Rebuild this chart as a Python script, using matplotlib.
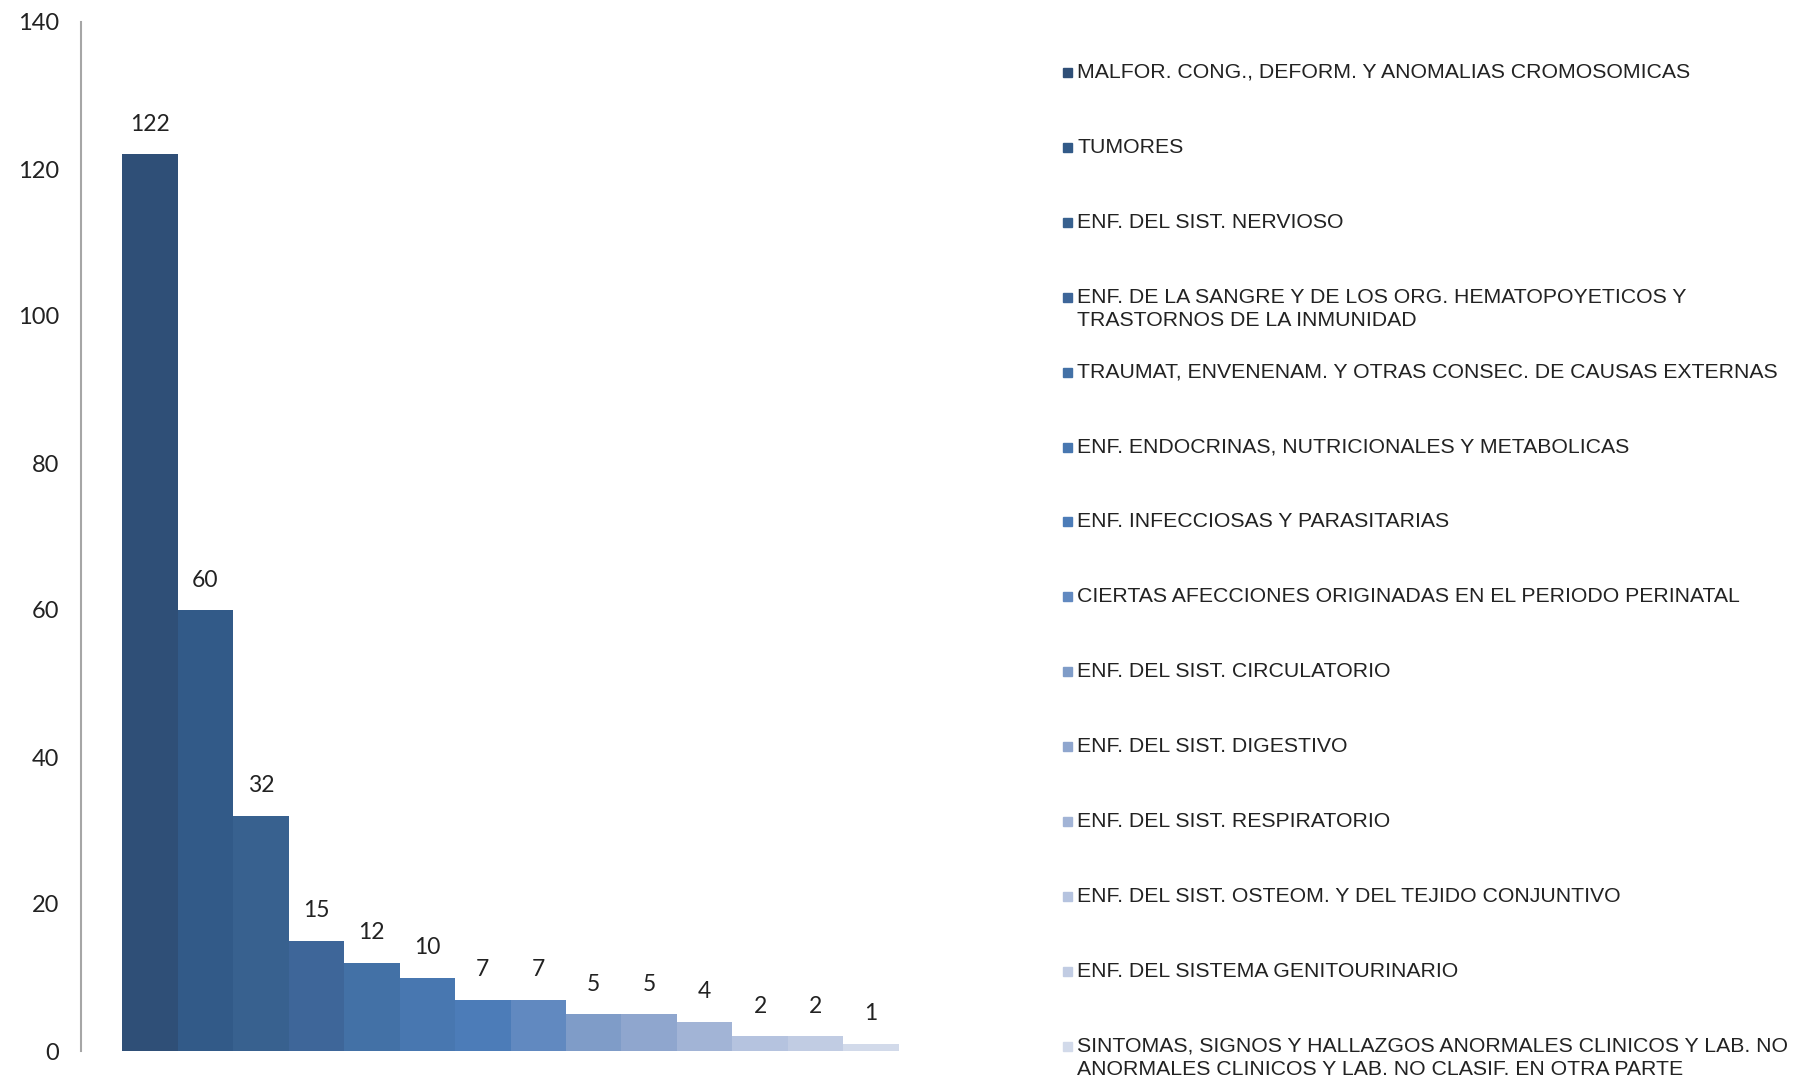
import matplotlib.pyplot as plt
from matplotlib.patches import Rectangle

# Data
causas = [
    "MALFOR. CONG., DEFORM. Y ANOMALIAS CROMOSOMICAS",
    "TUMORES",
    "ENF. DEL SIST. NERVIOSO",
    "ENF. DE LA SANGRE Y DE LOS ORG. HEMATOPOYETICOS Y\nTRASTORNOS DE LA INMUNIDAD",
    "TRAUMAT, ENVENENAM. Y OTRAS CONSEC. DE CAUSAS EXTERNAS",
    "ENF. ENDOCRINAS, NUTRICIONALES Y METABOLICAS",
    "ENF. INFECCIOSAS Y PARASITARIAS",
    "CIERTAS AFECCIONES ORIGINADAS EN EL PERIODO PERINATAL",
    "ENF. DEL SIST. CIRCULATORIO",
    "ENF. DEL SIST. DIGESTIVO",
    "ENF. DEL SIST. RESPIRATORIO",
    "ENF. DEL SIST. OSTEOM. Y DEL TEJIDO CONJUNTIVO",
    "ENF. DEL SISTEMA GENITOURINARIO",
    "SINTOMAS, SIGNOS Y HALLAZGOS ANORMALES CLINICOS Y LAB. NO\nANORMALES CLINICOS Y LAB. NO CLASIF. EN OTRA PARTE",
]
casos = [122, 60, 32, 15, 12, 10, 7, 7, 5, 5, 4, 2, 2, 1]
y_ticks = [0, 20, 40, 60, 80, 100, 120, 140]

colores = ["#2F4F77", "#325A88", "#38618F", "#3E6699", "#4371A6", "#4877B0",
           "#4C7CB8", "#6189C0", "#7F9CC8", "#8FA6CE", "#A2B4D6", "#B5C3DF",
           "#C1CCE3", "#D2DAEA"]

W, H = 1798, 1082
fig = plt.figure(figsize=(W / 100, H / 100), dpi=100)
ax = fig.add_axes([81 / W, 1 - 1051 / H, (940 - 81) / W, (1051 - 22) / H])

x = list(range(len(casos)))
bars = ax.bar(x, casos, width=1.0, color=colores, edgecolor="none")
for xi, v in zip(x, casos):
    ax.annotate(str(v), (xi, v), xytext=(0, 14), textcoords="offset points",
                ha="center", va="bottom", fontsize=16.5, family="Lato", color="#222222")

ax.set_ylim(0, 140)
ax.set_xlim(-1.24, len(casos) - 1 + 1.24)
ax.set_yticks(y_ticks)
ax.set_yticklabels([str(t) for t in y_ticks], fontsize=17, family="Lato", color="#222222")
ax.tick_params(axis="y", length=0, pad=16)
ax.set_xticks([])
for s in ["top", "right", "bottom"]:
    ax.spines[s].set_visible(False)
ax.spines["left"].set_color("#A6A6A6")
ax.spines["left"].set_linewidth(1.5)

# legend drawn by hand, one row every ~75 px
row0 = 73
paso = 74.9
for i, (nombre, c) in enumerate(zip(causas, colores)):
    yr = row0 + i * paso
    fig.patches.append(Rectangle((1063 / W, 1 - (yr + 4) / H), 9 / W, 9 / H,
                                 transform=fig.transFigure, color=c))
    fig.text(1077 / W, 1 - (yr - 10) / H, nombre, ha="left", va="top",
             fontsize=15.3, family="Liberation Sans", color="#222222", linespacing=1.3)

fig.savefig("out.png", dpi=100)
